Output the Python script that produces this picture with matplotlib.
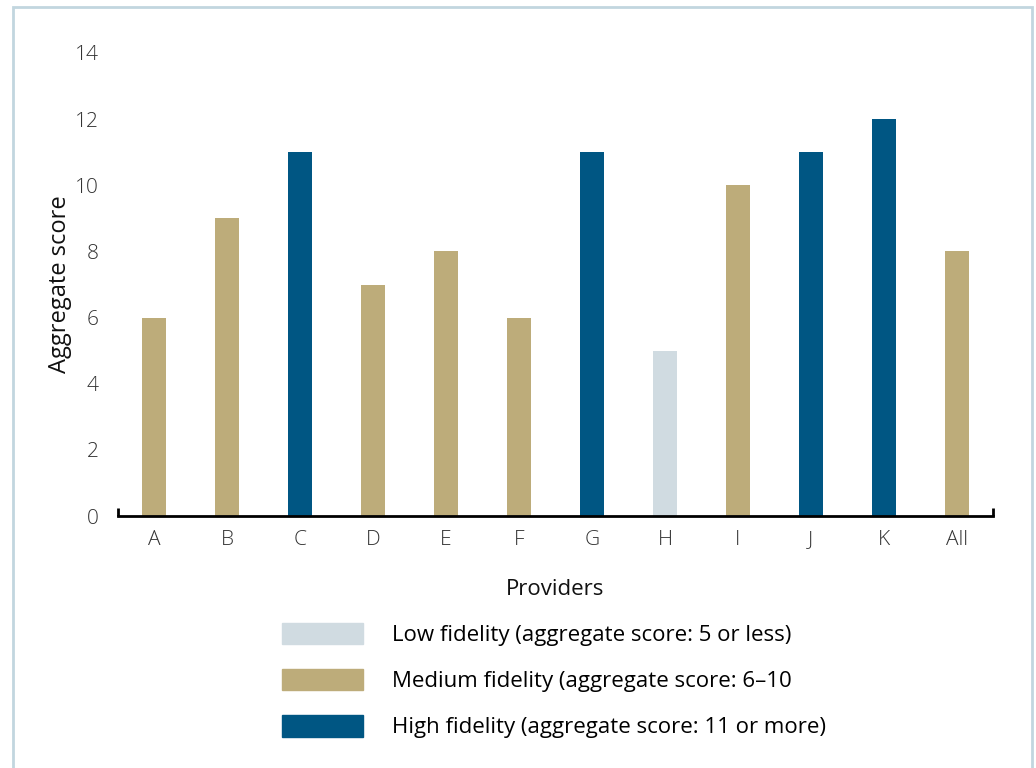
import matplotlib.pyplot as plt
from matplotlib.patches import Patch, Rectangle

plt.rcParams['font.family'] = ['Open Sans', 'DejaVu Sans']

providers = ["A", "B", "C", "D", "E", "F", "G", "H", "I", "J", "K", "All"]
scores = [6, 9, 11, 7, 8, 6, 11, 5, 10, 11, 12, 8]

low_col = "#D0DBE1"
med_col = "#BDAC7A"
high_col = "#005683"


def pick_colour(s):
    if s <= 5:
        return low_col
    if s <= 10:
        return med_col
    return high_col


legend_labels = [
    "Low fidelity (aggregate score: 5 or less)",
    "Medium fidelity (aggregate score: 6\u201310",
    "High fidelity (aggregate score: 11 or more)",
]

fig = plt.figure(figsize=(10.36, 7.68), dpi=100)
ax = fig.add_axes([118/1036, 1 - 516/768, (993-118)/1036, (516-53)/768])

x = range(len(providers))
ax.bar(x, scores, width=0.33, color=[pick_colour(s) for s in scores])

ax.set_xlim(-0.5, len(providers) - 0.5)
ax.set_ylim(0, 14)
ax.set_yticks(range(0, 15, 2))
ax.set_xticks(list(x))
ax.set_xticklabels(providers)

for side in ["top", "right", "left"]:
    ax.spines[side].set_visible(False)
ax.spines["bottom"].set_linewidth(2)
ax.spines["bottom"].set_color("black")

ax.tick_params(axis="both", which="major", length=0, labelsize=15, labelcolor="#333333")
ax.tick_params(axis="y", pad=14)
ax.tick_params(axis="x", pad=10)
for lbl in ax.get_xticklabels() + ax.get_yticklabels():
    lbl.set_fontweight("light")
# little end caps on the baseline
ax.set_xticks([-0.5, len(providers) - 0.5], minor=True)
ax.tick_params(axis="x", which="minor", direction="in", length=6, width=2, color="black")

ax.set_ylabel("Aggregate score", fontsize=17, color="#111111", labelpad=2)
ax.set_xlabel("Providers", fontsize=16, color="#111111", labelpad=21)

handles = [Patch(color=c) for c in (low_col, med_col, high_col)]
fig.legend(handles, legend_labels, loc="upper left", bbox_to_anchor=(282/1036, 1 - 623/768),
           frameon=False, fontsize=16, handlelength=3.65, handleheight=1.1,
           handletextpad=1.3, labelspacing=1.03, borderpad=0, borderaxespad=0)

fig.patches.append(Rectangle((13/1036, -0.1), (1032-13)/1036, 1.1 - 7/768,
                             transform=fig.transFigure, fill=False,
                             edgecolor="#C2D6DF", linewidth=2))

fig.savefig("out.png", dpi=100)
